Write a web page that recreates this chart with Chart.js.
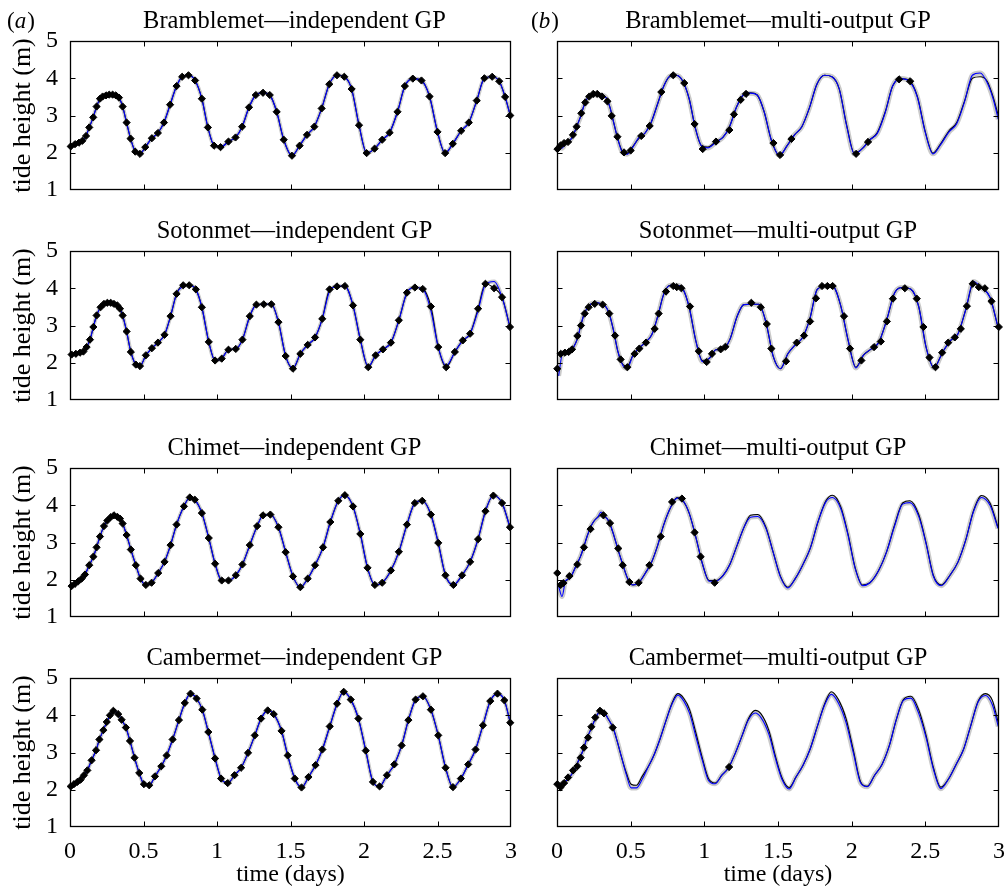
<!DOCTYPE html>
<html>
<head>
<meta charset="utf-8">
<script src="https://cdn.jsdelivr.net/npm/chart.js@4.4.1/dist/chart.umd.min.js"></script>
<style>
  html, body { margin: 0; padding: 0; background: #fff; }
  body { width: 1008px; height: 889px; position: relative; overflow: hidden; }
  canvas { position: absolute; }
</style>
</head>
<body>
<script>
// time axis (days) and tide heights (m)

// Bramblemet: true signal / independent-GP observations
const tBramble = [0.005,0.034,0.061,0.084,0.109,0.131,0.158,0.181,0.204,0.222,0.245,0.267,0.29,0.312,0.333,0.358,0.385,0.412,0.444,0.476,0.512,0.557,0.598,0.639,0.681,0.725,0.763,0.806,0.851,0.897,0.938,0.98,1.024,1.078,1.126,1.171,1.218,1.264,1.313,1.359,1.406,1.454,1.51,1.562,1.612,1.662,1.712,1.764,1.816,1.866,1.916,1.966,2.018,2.072,2.124,2.174,2.228,2.278,2.332,2.391,2.446,2.5,2.552,2.604,2.661,2.713,2.767,2.819,2.872,2.92,2.96,2.995];
const hBramble = [2.17,2.23,2.27,2.32,2.45,2.68,2.95,3.24,3.45,3.51,3.54,3.56,3.56,3.54,3.48,3.24,2.81,2.38,2.03,1.97,2.15,2.39,2.53,2.81,3.29,3.79,4.04,4.08,3.94,3.45,2.68,2.19,2.15,2.30,2.41,2.70,3.22,3.55,3.61,3.55,3.10,2.35,1.92,2.19,2.48,2.70,3.19,3.84,4.08,4.04,3.71,2.74,1.99,2.11,2.35,2.54,3.10,3.79,3.99,3.94,3.51,2.56,1.99,2.24,2.59,2.81,3.40,4.00,4.04,3.92,3.50,3.00];
const blueBrambleB = [2.17,2.12,2.27,2.32,2.45,2.68,2.95,3.24,3.45,3.51,3.54,3.56,3.56,3.54,3.48,3.24,2.81,2.38,2.01,1.96,2.13,2.42,2.53,2.81,3.29,3.79,4.05,4.08,3.94,3.45,2.68,2.19,2.13,2.28,2.41,2.70,3.22,3.55,3.60,3.55,3.10,2.35,1.93,2.19,2.48,2.70,3.19,3.84,4.08,4.04,3.71,2.72,1.97,2.11,2.35,2.52,3.08,3.79,3.99,3.92,3.49,2.54,1.97,2.22,2.56,2.78,3.38,4.08,4.14,3.88,3.45,2.90];
const tBrambleObsB = [0.003,0.025,0.048,0.075,0.108,0.133,0.165,0.192,0.219,0.246,0.273,0.305,0.342,0.371,0.41,0.455,0.5,0.572,0.629,0.708,0.789,0.864,0.934,0.989,1.079,1.17,1.201,1.247,1.283,1.469,1.514,1.591,2.03,2.111,2.322,2.397];
const hBrambleObsB = [2.10,2.20,2.26,2.29,2.48,2.70,3.06,3.35,3.51,3.58,3.58,3.51,3.38,2.99,2.43,2.01,2.06,2.45,2.72,3.63,4.08,3.87,2.77,2.10,2.30,2.61,3.03,3.42,3.58,2.26,1.94,2.37,1.97,2.29,3.97,3.92];

// Sotonmet
const tSoton = [0.011,0.04,0.068,0.091,0.113,0.136,0.159,0.181,0.208,0.231,0.254,0.277,0.299,0.322,0.34,0.358,0.385,0.414,0.448,0.476,0.516,0.557,0.598,0.643,0.684,0.725,0.77,0.811,0.856,0.897,0.944,0.987,1.032,1.078,1.128,1.173,1.223,1.268,1.318,1.37,1.418,1.467,1.517,1.567,1.617,1.667,1.716,1.766,1.816,1.87,1.925,1.975,2.029,2.079,2.129,2.183,2.237,2.292,2.346,2.4,2.455,2.505,2.559,2.618,2.672,2.722,2.776,2.826,2.885,2.939,2.993];
const hSoton = [2.22,2.24,2.27,2.30,2.42,2.62,2.96,3.27,3.49,3.58,3.61,3.61,3.58,3.54,3.45,3.27,2.84,2.29,1.95,1.91,2.20,2.39,2.54,2.75,3.25,3.85,4.08,4.08,3.97,3.49,2.56,2.06,2.11,2.35,2.37,2.62,3.25,3.56,3.57,3.57,3.09,2.18,1.84,2.24,2.48,2.68,3.18,3.97,4.05,4.06,3.54,2.62,1.88,2.20,2.36,2.54,3.14,3.88,4.02,3.98,3.51,2.42,1.88,2.29,2.60,2.78,3.45,4.12,4.00,3.76,2.96];
const blueSotonA = [2.22,2.24,2.27,2.30,2.42,2.62,2.96,3.27,3.49,3.58,3.61,3.61,3.58,3.54,3.45,3.27,2.84,2.29,1.95,1.91,2.20,2.39,2.54,2.75,3.25,3.85,4.05,4.08,3.97,3.49,2.56,2.06,2.11,2.35,2.37,2.62,3.25,3.56,3.57,3.57,3.09,2.18,1.86,2.24,2.48,2.68,3.18,3.92,4.05,4.06,3.54,2.62,1.90,2.20,2.36,2.54,3.14,3.88,4.02,3.98,3.40,2.42,1.92,2.29,2.60,2.78,3.40,4.10,4.18,3.76,2.96];
const blueSotonB = [1.65,2.28,2.27,2.30,2.42,2.62,2.96,3.27,3.49,3.58,3.61,3.61,3.58,3.54,3.45,3.27,2.84,2.29,1.92,1.85,2.20,2.39,2.54,2.75,3.25,3.85,4.08,4.08,3.97,3.49,2.56,2.03,2.11,2.35,2.37,2.62,3.25,3.56,3.57,3.57,3.09,2.18,1.84,2.24,2.48,2.68,3.18,3.97,4.05,4.06,3.54,2.62,1.86,2.20,2.36,2.54,3.14,3.88,4.02,3.98,3.51,2.42,1.86,2.29,2.60,2.78,3.45,4.18,4.00,3.76,2.96];
const tSotonObsB = [0.002,0.025,0.054,0.079,0.102,0.138,0.163,0.188,0.215,0.256,0.31,0.355,0.394,0.432,0.477,0.527,0.559,0.604,0.663,0.69,0.74,0.789,0.813,0.844,0.903,0.962,1.016,1.052,1.111,1.143,1.319,1.383,1.424,1.455,1.555,1.627,1.677,1.718,1.758,1.799,1.835,1.871,1.948,1.989,2.066,2.152,2.198,2.239,2.28,2.361,2.442,2.487,2.528,2.569,2.614,2.655,2.7,2.741,2.782,2.822,2.863,2.904,2.949,2.999];
const hSotonObsB = [1.84,2.24,2.27,2.29,2.36,2.72,3.00,3.32,3.49,3.58,3.56,3.32,2.73,2.09,1.88,2.24,2.38,2.54,2.91,3.32,3.91,4.06,4.03,4.00,3.51,2.31,2.02,2.24,2.36,2.43,3.61,3.49,3.04,2.38,2.04,2.54,2.73,3.11,3.73,4.06,4.06,4.06,3.25,2.38,2.06,2.42,2.57,3.11,3.72,4.00,3.72,2.96,2.14,1.88,2.27,2.54,2.68,2.91,3.52,4.12,4.03,4.00,3.65,2.96];

// Chimet
const tChim = [0.011,0.034,0.057,0.079,0.102,0.131,0.159,0.181,0.204,0.231,0.254,0.277,0.299,0.322,0.34,0.358,0.385,0.414,0.448,0.48,0.516,0.555,0.6,0.643,0.684,0.725,0.775,0.815,0.849,0.897,0.944,0.987,1.032,1.078,1.128,1.173,1.223,1.273,1.313,1.363,1.418,1.467,1.517,1.567,1.617,1.667,1.721,1.771,1.825,1.87,1.925,1.975,2.024,2.074,2.124,2.183,2.237,2.292,2.346,2.396,2.455,2.505,2.554,2.608,2.667,2.722,2.776,2.826,2.88,2.939,2.993];
const hChim = [1.83,1.89,1.96,2.03,2.14,2.39,2.62,2.87,3.16,3.44,3.59,3.68,3.73,3.69,3.64,3.51,3.20,2.81,2.39,2.03,1.86,1.92,2.18,2.48,2.93,3.48,3.97,4.21,4.15,3.79,3.12,2.43,1.98,1.98,2.12,2.41,2.93,3.44,3.73,3.75,3.41,2.74,2.09,1.80,2.03,2.39,2.87,3.55,4.12,4.27,3.97,3.23,2.32,1.86,1.92,2.25,2.75,3.48,4.06,4.12,3.75,2.99,2.12,1.86,2.12,2.48,3.09,3.84,4.26,4.06,3.41];
const blueChimB = [1.83,1.55,1.96,2.03,2.14,2.39,2.62,2.87,3.16,3.44,3.59,3.68,3.82,3.69,3.64,3.51,3.20,2.81,2.39,2.03,1.86,1.92,2.18,2.48,2.93,3.48,3.97,4.19,4.15,3.79,3.12,2.43,1.96,1.96,2.12,2.41,2.93,3.44,3.68,3.70,3.38,2.74,2.07,1.78,2.03,2.39,2.87,3.55,4.09,4.21,3.92,3.20,2.30,1.84,1.92,2.25,2.75,3.45,4.03,4.07,3.70,2.97,2.10,1.84,2.12,2.48,3.09,3.82,4.21,4.00,3.38];
const tChimObsB = [0.002,0.025,0.043,0.084,0.138,0.183,0.228,0.315,0.36,0.416,0.446,0.491,0.554,0.627,0.704,0.781,0.848,0.934,0.975,1.07];
const hChimObsB = [2.18,1.86,1.91,2.10,2.41,2.87,3.36,3.73,3.52,2.84,2.39,1.94,1.92,2.39,3.16,4.09,4.18,3.27,2.62,1.92];

// Cambermet
const tCamb = [0.005,0.027,0.05,0.072,0.095,0.118,0.147,0.177,0.2,0.227,0.25,0.272,0.295,0.328,0.351,0.38,0.408,0.439,0.471,0.503,0.539,0.578,0.621,0.657,0.698,0.741,0.781,0.82,0.861,0.9,0.941,0.987,1.028,1.073,1.119,1.164,1.211,1.257,1.3,1.345,1.386,1.439,1.481,1.529,1.575,1.622,1.67,1.717,1.767,1.817,1.862,1.91,1.962,2.012,2.061,2.106,2.156,2.206,2.256,2.302,2.351,2.401,2.455,2.505,2.555,2.605,2.659,2.709,2.759,2.809,2.859,2.908,2.955,2.995];
const hCamb = [2.09,2.15,2.21,2.27,2.39,2.52,2.79,3.06,3.35,3.60,3.82,4.00,4.12,4.03,3.88,3.67,3.31,2.86,2.45,2.15,2.12,2.36,2.63,2.92,3.35,3.87,4.33,4.58,4.45,4.15,3.55,2.84,2.30,2.18,2.39,2.59,2.99,3.46,3.91,4.13,4.03,3.58,2.92,2.30,2.06,2.34,2.66,3.08,3.70,4.31,4.63,4.42,3.91,3.05,2.21,2.09,2.39,2.68,3.19,3.87,4.42,4.51,4.15,3.46,2.59,2.07,2.30,2.68,3.08,3.73,4.38,4.58,4.40,3.80];
const blueCambB = [2.09,2.15,2.21,2.27,2.39,2.52,2.79,3.06,3.35,3.60,3.82,4.00,4.12,4.03,3.88,3.67,3.31,2.86,2.40,2.05,2.05,2.28,2.63,2.92,3.35,3.87,4.30,4.54,4.38,4.05,3.45,2.78,2.25,2.16,2.39,2.59,2.99,3.46,3.88,4.06,3.93,3.48,2.86,2.26,2.02,2.34,2.66,3.08,3.70,4.28,4.56,4.33,3.80,2.98,2.18,2.08,2.39,2.68,3.19,3.87,4.40,4.46,4.05,3.40,2.55,2.03,2.30,2.68,3.08,3.73,4.36,4.53,4.28,3.70];
const tCambObsB = [0.002,0.025,0.048,0.075,0.109,0.138,0.161,0.183,0.211,0.233,0.26,0.292,0.319,0.378,1.168];
const hCambObsB = [2.15,2.07,2.18,2.33,2.52,2.63,2.86,3.13,3.40,3.69,3.94,4.12,4.05,3.67,2.61];

// axes
const xTicks = [0, 0.5, 1, 1.5, 2, 2.5, 3];
const yTicks = [1, 2, 3, 4, 5];

const serif = '"Liberation Serif", "Times New Roman", Times, serif';
const rowTops = [41, 251, 468, 678];
const plotH = 149;

const panels = [
    { row: 0, col: 0, letter: 'a', title: 'Bramblemet\u2014independent GP', tt: tBramble, th: hBramble, bh: hBramble, ot: tBramble, oh: hBramble },
    { row: 0, col: 1, letter: 'b', title: 'Bramblemet\u2014multi-output GP', tt: tBramble, th: hBramble, bh: blueBrambleB, ot: tBrambleObsB, oh: hBrambleObsB },
    { row: 1, col: 0, title: 'Sotonmet\u2014independent GP', tt: tSoton, th: hSoton, bh: blueSotonA, ot: tSoton, oh: hSoton },
    { row: 1, col: 1, title: 'Sotonmet\u2014multi-output GP', tt: tSoton, th: hSoton, bh: blueSotonB, ot: tSotonObsB, oh: hSotonObsB },
    { row: 2, col: 0, title: 'Chimet\u2014independent GP', tt: tChim, th: hChim, bh: hChim, ot: tChim, oh: hChim },
    { row: 2, col: 1, title: 'Chimet\u2014multi-output GP', tt: tChim, th: hChim, bh: blueChimB, ot: tChimObsB, oh: hChimObsB },
    { row: 3, col: 0, title: 'Cambermet\u2014independent GP', tt: tCamb, th: hCamb, bh: hCamb, ot: tCamb, oh: hCamb },
    { row: 3, col: 1, title: 'Cambermet\u2014multi-output GP', tt: tCamb, th: hCamb, bh: blueCambB, ot: tCambObsB, oh: hCambObsB }
];

function pts(xs, ys) {
    return xs.map(function(x, i) { return { x: x, y: ys[i] }; });
}

// box round the plot with MATLAB style inward ticks on all four sides
const boxPlugin = {
    id: 'box',
    afterDatasetsDraw(chart) {
        const { ctx, chartArea: a, scales } = chart;
        const L = Math.round(a.left) + 0.5, R = Math.round(a.right) - 0.5;
        const T = Math.round(a.top) + 0.5, B = Math.round(a.bottom) - 0.5;
        ctx.save();
        ctx.strokeStyle = '#000';
        ctx.lineWidth = 1;
        ctx.beginPath();
        xTicks.slice(1, -1).forEach(function(v) {
            const px = Math.round(scales.x.getPixelForValue(v)) + 0.5;
            ctx.moveTo(px, B); ctx.lineTo(px, B - 5);
            ctx.moveTo(px, T); ctx.lineTo(px, T + 5);
        });
        yTicks.slice(1, -1).forEach(function(v) {
            const py = Math.round(scales.y.getPixelForValue(v)) + 0.5;
            ctx.moveTo(L, py); ctx.lineTo(L + 5, py);
            ctx.moveTo(R, py); ctx.lineTo(R - 5, py);
        });
        ctx.stroke();
        ctx.lineWidth = 1.3;
        ctx.strokeRect(L, T, R - L, B - T);
        ctx.restore();
    }
};

// panel title and (a)/(b) tag
const textPlugin = {
    id: 'panelText',
    afterDraw(chart, args, opts) {
        const { ctx, chartArea: a } = chart;
        const base = a.top - 13;
        const font = '24.5px ' + serif;
        ctx.save();
        ctx.fillStyle = '#000';
        ctx.textBaseline = 'alphabetic';
        ctx.font = font;
        ctx.textAlign = 'center';
        ctx.fillText(opts.title, (a.left + a.right) / 2 + opts.shift, base);
        if (opts.letter) {
            ctx.textAlign = 'left';
            let x = opts.letterX;
            ctx.font = '23px ' + serif;
            ctx.fillText('(', x, base);
            x += ctx.measureText('(').width;
            ctx.font = 'italic 23px ' + serif;
            ctx.fillText(opts.letter, x, base);
            x += ctx.measureText(opts.letter).width + 1;
            ctx.font = '23px ' + serif;
            ctx.fillText(')', x, base);
        }
        ctx.restore();
    }
};

panels.forEach(function(p) {
    const isLeft = p.col === 0;
    const isBottom = p.row === 3;
    const canvas = document.createElement('canvas');
    const w = isLeft ? 520 : 488;
    const h = 38 + plotH + (isBottom ? 62 : 6);
    canvas.width = w;
    canvas.height = h;
    canvas.style.left = (isLeft ? 0 : 520) + 'px';
    canvas.style.top = (rowTops[p.row] - 38) + 'px';
    canvas.style.width = w + 'px';
    canvas.style.height = h + 'px';
    document.body.appendChild(canvas);

    const bandWidth = isLeft ? 4 : 5;

    new Chart(canvas.getContext('2d'), {
        type: 'line',
        data: {
            datasets: [
                {
                    // observations
                    data: pts(p.ot, p.oh),
                    showLine: false,
                    pointStyle: 'rectRot',
                    pointRadius: 3.6,
                    pointBackgroundColor: '#000',
                    pointBorderColor: '#000',
                    pointBorderWidth: 1,
                    clip: 6
                },
                {
                    // GP mean
                    data: pts(p.tt, p.bh),
                    borderColor: '#0000ff',
                    borderWidth: 1.1,
                    pointRadius: 0,
                    cubicInterpolationMode: 'monotone'
                },
                {
                    // true tide
                    data: pts(p.tt, p.th),
                    borderColor: '#000',
                    borderWidth: 1.1,
                    pointRadius: 0,
                    cubicInterpolationMode: 'monotone'
                },
                {
                    // uncertainty band
                    data: pts(p.tt, p.bh),
                    borderColor: 'rgb(202,202,202)',
                    borderWidth: bandWidth,
                    pointRadius: 0,
                    cubicInterpolationMode: 'monotone'
                }
            ]
        },
        options: {
            responsive: false,
            animation: false,
            devicePixelRatio: 1,
            events: [],
            layout: { padding: { top: 38, right: 9, bottom: isBottom ? 0 : 6, left: 0 } },
            plugins: {
                legend: { display: false },
                tooltip: { enabled: false },
                panelText: { title: p.title, letter: p.letter, letterX: isLeft ? 7 : 11, shift: isLeft ? 4 : 0 }
            },
            scales: {
                x: {
                    type: 'linear',
                    min: 0,
                    max: 3,
                    grid: { display: false },
                    border: { display: false },
                    ticks: {
                        display: isBottom,
                        stepSize: 0.5,
                        padding: 2,
                        color: '#000',
                        maxRotation: 0,
                        autoSkip: false,
                        font: { family: serif, size: 24 },
                        callback: function(v) { return String(v); }
                    },
                    title: {
                        display: isBottom,
                        text: 'time (days)',
                        color: '#000',
                        font: { family: serif, size: 24, lineHeight: 1 },
                        padding: { top: 0, bottom: 2 }
                    },
                    afterFit: function(s) {
                        s.height = isBottom ? 62 : 0;
                        s.paddingLeft = 0;
                        s.paddingRight = 0;
                    }
                },
                y: {
                    type: 'linear',
                    min: 1,
                    max: 5,
                    grid: { display: false },
                    border: { display: false },
                    ticks: {
                        display: isLeft,
                        stepSize: 1,
                        padding: 4,
                        color: '#000',
                        font: { family: serif, size: 24 }
                    },
                    title: {
                        display: isLeft,
                        text: 'tide height (m)',
                        color: '#000',
                        font: { family: serif, size: 26, lineHeight: 1 },
                        padding: { top: 10, bottom: 0 }
                    },
                    afterFit: function(s) {
                        s.width = isLeft ? 70 : 37;
                        s.paddingTop = 0;
                        s.paddingBottom = 0;
                    }
                }
            }
        },
        plugins: [boxPlugin, textPlugin]
    });
});
</script>
</body>
</html>
